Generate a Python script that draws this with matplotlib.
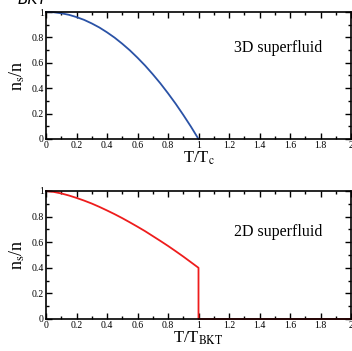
import matplotlib
matplotlib.use('Agg')
import matplotlib.pyplot as plt
from matplotlib.ticker import MultipleLocator, FuncFormatter

# Curva 3D
t_3d = [0.0, 0.05, 0.1, 0.15, 0.2, 0.25, 0.3, 0.35, 0.4, 0.45, 0.5,
        0.55, 0.6, 0.65, 0.7, 0.75, 0.8, 0.85, 0.9, 0.95, 1.0]
ns_3d = [1.0, 0.998, 0.99, 0.978, 0.96, 0.938, 0.91, 0.878, 0.84, 0.798, 0.75,
         0.698, 0.64, 0.578, 0.51, 0.438, 0.36, 0.278, 0.19, 0.098, 0.0]

# Curva 2D con salto en T_BKT
t_2d = [0.0, 0.05, 0.1, 0.15, 0.2, 0.25, 0.3, 0.35, 0.4, 0.45, 0.5,
        0.55, 0.6, 0.65, 0.7, 0.75, 0.8, 0.85, 0.9, 0.95, 1.0, 1.0, 2.0]
ns_2d = [1.0, 0.993, 0.981, 0.965, 0.946, 0.925, 0.902, 0.876, 0.848, 0.819, 0.788,
         0.755, 0.721, 0.686, 0.648, 0.610, 0.571, 0.530, 0.488, 0.444, 0.40, 0.0, 0.0]

plt.rcParams['font.family'] = ['Liberation Serif', 'DejaVu Serif']
plt.rcParams['mathtext.fontset'] = 'stix'

fig = plt.figure(figsize=(3.52, 3.51), dpi=100)
W, H = 352, 351
ax1 = fig.add_axes([46 / W, 1 - 139 / H, 305 / W, 127 / H])
ax2 = fig.add_axes([46 / W, 1 - 319 / H, 305 / W, 128 / H])

fmt = FuncFormatter(lambda v, p: '%g' % round(v, 2))

for ax in (ax1, ax2):
    ax.set_xlim(0, 2)
    ax.set_ylim(0, 1)
    ax.xaxis.set_major_locator(MultipleLocator(0.2))
    ax.xaxis.set_minor_locator(MultipleLocator(0.1))
    ax.yaxis.set_major_locator(MultipleLocator(0.2))
    ax.yaxis.set_minor_locator(MultipleLocator(0.1))
    ax.xaxis.set_major_formatter(fmt)
    ax.yaxis.set_major_formatter(fmt)
    ax.tick_params(which='both', direction='in', top=True, right=True, labelsize=7, pad=1.5, width=1)
    ax.tick_params(which='major', length=4.5)
    ax.tick_params(which='minor', length=2.5)
    for s in ax.spines.values():
        s.set_linewidth(1.2)
    ax.set_ylabel(r'n$_\mathrm{s}$/n', fontsize=13, labelpad=3)

ax1.plot(t_3d, ns_3d, color='#2a52a6', linewidth=1.3, clip_on=False)
ax1.text(1.52, 0.72, '3D superfluid', fontsize=11.5, ha='center', va='center')
ax1.set_xlabel(r'T/T$_\mathrm{c}$', fontsize=12, labelpad=0)

ax2.plot(t_2d, ns_2d, color='#ee1c1c', linewidth=1.3, clip_on=False)
ax2.text(1.52, 0.68, '2D superfluid', fontsize=11.5, ha='center', va='center')
ax2.set_xlabel(r'T/T$_\mathrm{BKT}$', fontsize=12, labelpad=0)

# Texto cortado arriba (visible así en el original)
fig.text(18 / W, 1 - 4 / H, 'BKT', fontsize=11, style='italic', family='DejaVu Sans', va='baseline')

plt.savefig('out.png', dpi=100)
